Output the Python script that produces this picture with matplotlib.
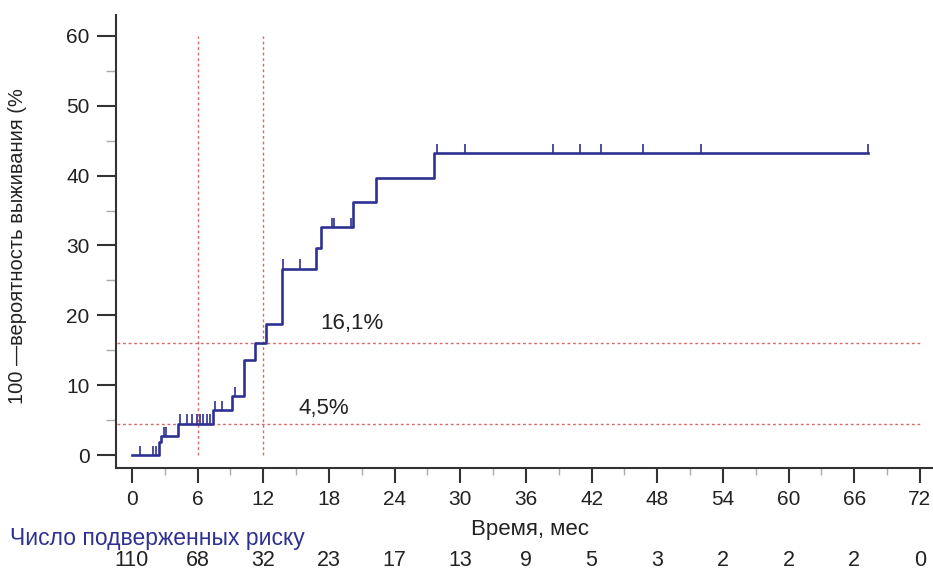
import numpy as np
import matplotlib
matplotlib.use("Agg")
import matplotlib.pyplot as plt
from matplotlib.ticker import MultipleLocator

plt.rcParams['font.family'] = ['Liberation Sans', 'DejaVu Sans']

# step curve: 100 - survival (%)
event_times = [0, 2.5, 2.7, 4.2, 7.4, 9.1, 10.2, 11.2, 12.25, 13.7, 16.8, 17.3, 20.2, 22.3, 27.6]
cum_values = [0, 1.8, 2.7, 4.5, 6.4, 8.5, 13.6, 16.1, 18.8, 26.7, 29.7, 32.6, 36.2, 39.6, 43.3]
last_follow_up = 67.3

# censored observations (months)
censor_times = [0.7, 1.9, 2.2, 2.9, 3.1,
                4.4, 5.0, 5.5, 5.9, 6.2, 6.5, 6.9, 7.1,
                7.6, 8.2, 9.4, 13.8, 15.4, 18.3, 18.5, 20.0,
                27.85, 30.4, 38.5, 40.9, 42.9, 46.7, 52.0, 67.3]

# reference marks
ref_months = [6, 12]
ref_levels = [4.5, 16.1]
ref_labels = ["4,5%", "16,1%"]
ref_label_pos = [(17.5, 6.7), (20.1, 18.9)]

x_ticks = list(range(0, 73, 6))
at_risk = [110, 68, 32, 23, 17, 13, 9, 5, 3, 2, 2, 2, 0]

curve_color = "#2e3192"
ref_color = "#d46a6a"
axis_color = "#333333"

fig = plt.figure(figsize=(9.33, 5.71), dpi=100)
ax = fig.add_axes([0.1243, 0.1804, 0.8757, 0.7933])

# reference lines
for m in ref_months:
    ax.plot([m, m], [0, 60], color=ref_color, lw=1.0, ls=(0, (2, 2)), zorder=1)
for lv in ref_levels:
    ax.plot([-1.4, 72], [lv, lv], color=ref_color, lw=1.0, ls=(0, (2, 2)), zorder=1)

# curve
xs = event_times + [last_follow_up]
ys = cum_values + [cum_values[-1]]
ax.step(xs, ys, where='post', color=curve_color, lw=1.9, zorder=3)

# censor ticks
idx = np.searchsorted(event_times, censor_times, side='right') - 1
levels = np.array(cum_values)[idx]
ax.vlines(censor_times, levels, levels + 1.3, color=curve_color, lw=1.2, zorder=3)

for (tx, ty), lab in zip(ref_label_pos, ref_labels):
    ax.text(tx, ty, lab, ha='center', va='center', fontsize=16, color='#222222')

ax.set_xlim(-1.46, 73.2)
ax.set_ylim(-1.86, 63.0)

ax.spines['top'].set_visible(False)
ax.spines['right'].set_visible(False)
for s in ['left', 'bottom']:
    ax.spines[s].set_color(axis_color)
    ax.spines[s].set_linewidth(1.5)

ax.set_xticks(x_ticks)
ax.set_xticklabels([str(t) for t in x_ticks])
ax.xaxis.set_minor_locator(MultipleLocator(3))
ax.set_yticks(range(0, 61, 10))
ax.yaxis.set_minor_locator(MultipleLocator(5))

ax.tick_params(axis='x', which='major', length=10.5, width=1.5, color=axis_color,
               labelsize=15, pad=5, labelcolor='#222222')
ax.tick_params(axis='x', which='minor', length=5, width=1.0, color='#aaaaaa')
ax.tick_params(axis='y', which='major', length=14, width=1.5, color=axis_color,
               labelsize=15, pad=5, labelcolor='#222222')
ax.tick_params(axis='y', which='minor', length=7, width=1.0, color='#aaaaaa')

ax.set_xlabel("Время, мес", fontsize=16, color='#222222')
ax.xaxis.set_label_coords(0.507, -0.1126)
ax.set_ylabel("100 —вероятность выживания (%", fontsize=14.5, color='#222222')
ax.yaxis.set_label_coords(-0.109, 0.49)

# number at risk
fig.text(10 / 933, 1 - 539 / 571, "Число подверженных риску", fontsize=16.5,
         color=curve_color, ha='left', va='center')
trans = ax.get_xaxis_transform()
for t, n in zip(x_ticks, at_risk):
    ax.text(t, -0.204, str(n), transform=trans, ha='center', va='center',
            fontsize=15.5, color='#222222', clip_on=False)

fig.savefig("out.png", dpi=100)
